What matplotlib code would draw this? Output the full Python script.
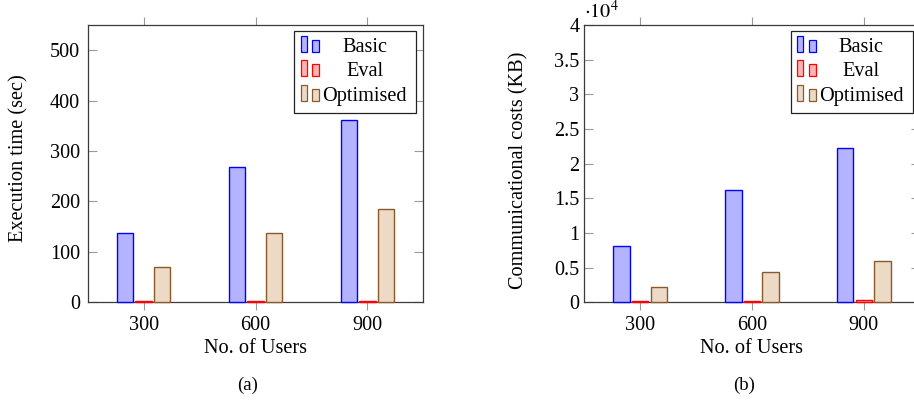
import numpy as np
import matplotlib
matplotlib.use("Agg")
import matplotlib.pyplot as plt
from matplotlib.patches import Rectangle
from matplotlib.ticker import FuncFormatter, MultipleLocator

# --- Data ---
users = [300, 600, 900]
series = ["Basic", "Eval", "Optimised"]

exec_basic = [138, 268, 362]
exec_eval = [2, 2, 3]
exec_optimised = [71, 137, 186]

comm_basic = [8170, 16250, 22200]
comm_eval = [150, 200, 280]
comm_optimised = [2260, 4420, 6010]

# --- Style ---
FILL = {"Basic": "#b3b3ff", "Eval": "#ffb3b3", "Optimised": "#ecd9c6"}
EDGE = {"Basic": "#0000ff", "Eval": "#ff0000", "Optimised": "#8b5a2b"}
SPINE = "#3a3a3a"
TICK = "#9a9a9a"
FS = 14.6

plt.rcParams["font.family"] = ["Liberation Serif", "DejaVu Serif"]
plt.rcParams["mathtext.fontset"] = "stix"

W, H, DPI = 914, 404, 100
fig = plt.figure(figsize=(W / DPI, H / DPI), dpi=DPI)


def px_axes(left, top, right, bottom):
    return fig.add_axes([left / W, 1 - bottom / H, (right - left) / W, (bottom - top) / H])


def draw_bars(ax, basic, ev, opt):
    x = np.array(users, dtype=float)
    width = 44
    shift = 50
    for vals, name, off in [(basic, "Basic", -shift), (ev, "Eval", 0), (opt, "Optimised", shift)]:
        ax.bar(x + off, vals, width=width, color=FILL[name], edgecolor=EDGE[name],
               linewidth=1.0, zorder=3, clip_on=False)


def style_axes(ax, ypad):
    ax.set_xlim(150, 1050)
    ax.set_xticks(users)
    ax.set_xticklabels([str(u) for u in users])
    for s in ax.spines.values():
        s.set_color(SPINE)
        s.set_linewidth(0.9)
        s.set_zorder(2)
    ax.tick_params(axis="x", direction="out", length=6, width=0.8, color=TICK,
                   top=True, labelsize=FS, pad=4)
    ax.tick_params(axis="y", direction="in", length=6.5, width=0.8, color=TICK,
                   right=True, labelsize=FS, pad=ypad)


def draw_legend(ax):
    # legend box sized in pixels, anchored to the upper right corner of the axes
    bb = ax.get_position()
    aw, ah = bb.width * W, bb.height * H
    bw, bh = 122, 82
    x0 = 1 - (7 + bw) / aw
    y0 = 1 - (6 + bh) / ah
    ax.add_patch(Rectangle((x0, y0), bw / aw, bh / ah, transform=ax.transAxes,
                           facecolor="white", edgecolor="#222222", linewidth=0.9, zorder=5))
    for i, name in enumerate(series):
        base = y0 + (bh - 20.7 - 24.7 * i) / ah
        ax.add_patch(Rectangle((x0 + 6.4 / aw, base), 6 / aw, 16 / ah, transform=ax.transAxes,
                               facecolor=FILL[name], edgecolor=EDGE[name], linewidth=0.9, zorder=6))
        ax.add_patch(Rectangle((x0 + 18 / aw, base), 7 / aw, 12 / ah, transform=ax.transAxes,
                               facecolor=FILL[name], edgecolor=EDGE[name], linewidth=0.9, zorder=6))
        ax.text(x0 + 70.5 / aw, base, name, transform=ax.transAxes, ha="center",
                va="baseline", fontsize=FS, zorder=7)


# (a) execution time
ax1 = px_axes(87.7, 25, 423.3, 302.3)
draw_bars(ax1, exec_basic, exec_eval, exec_optimised)
ax1.set_ylim(0, 550)
ax1.yaxis.set_major_locator(MultipleLocator(100))
style_axes(ax1, ypad=5.5)
draw_legend(ax1)

# (b) communication cost, axis labelled in units of 10^4
ax2 = px_axes(584.3, 25, 919.7, 302.3)
draw_bars(ax2, comm_basic, comm_eval, comm_optimised)
ax2.set_ylim(0, 40000)
ax2.yaxis.set_major_locator(MultipleLocator(5000))
ax2.yaxis.set_major_formatter(FuncFormatter(lambda v, p: f"{v / 1e4:g}"))
style_axes(ax2, ypad=3.6)
draw_legend(ax2)
ax2.text(0.0, 1.0 + 7 / 277.3, r"$\cdot10^{4}$", transform=ax2.transAxes,
         ha="left", va="baseline", fontsize=FS)

# axis labels and sub-captions
fig.text(18.5 / W, 1 - 158 / H, "Execution time (sec)", rotation=90,
         ha="center", va="center", fontsize=FS)
fig.text(519 / W, 1 - 170 / H, "Communicational costs (KB)", rotation=90,
         ha="center", va="center", fontsize=FS)
for cx in (255.7, 751.7):
    fig.text(cx / W, 1 - 353.3 / H, "No. of Users", ha="center", va="baseline", fontsize=FS)
for cx, lab in [(248, "(a)"), (744, "(b)")]:
    fig.text(cx / W, 1 - 390 / H, lab, ha="center", va="baseline", fontsize=13.5)

fig.savefig("out.png", dpi=DPI)
